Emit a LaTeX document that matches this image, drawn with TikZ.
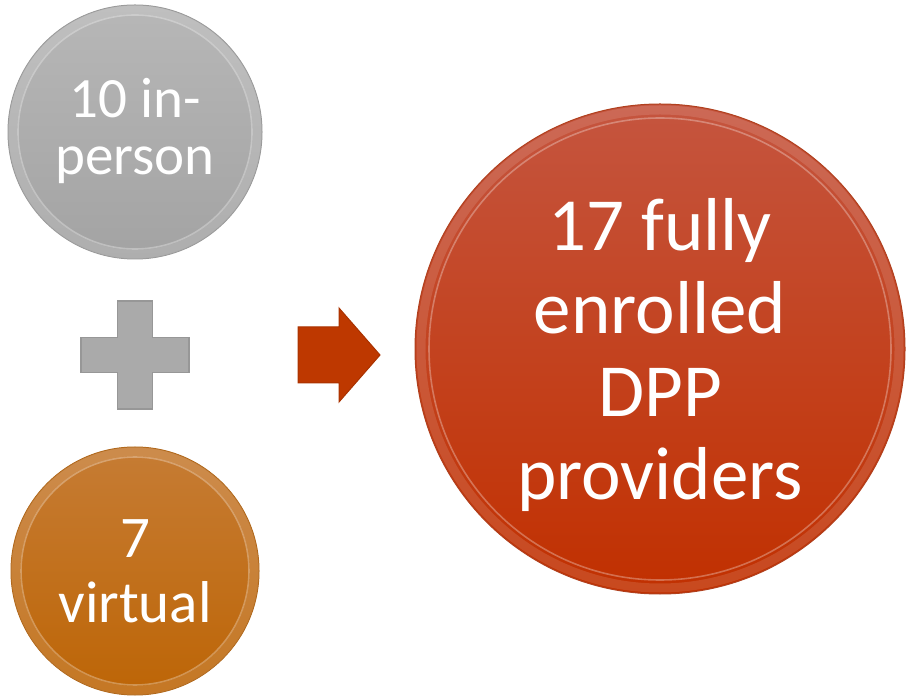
\documentclass[tikz,border=0pt]{standalone}
\usepackage{fontspec}
\setmainfont{Carlito}
\usepackage{tikz}
\usetikzlibrary{positioning}

\definecolor{greytop}{HTML}{B7B7B7}
\definecolor{greybot}{HTML}{A3A3A3}
\definecolor{greyrim}{HTML}{959595}
\definecolor{ambertop}{HTML}{C67C34}
\definecolor{amberbot}{HTML}{BD6506}
\definecolor{amberrim}{HTML}{AD600F}
\definecolor{rusttop}{HTML}{C5553F}
\definecolor{rustbot}{HTML}{C13000}
\definecolor{rustrim}{HTML}{B0401E}
\definecolor{plusgrey}{HTML}{AAAAAA}
\definecolor{plusedge}{HTML}{979797}
\definecolor{arrowred}{HTML}{BE3800}
\definecolor{arrowedge}{HTML}{A93200}

\begin{document}
\begin{tikzpicture}[x=1pt,y=1pt,outer sep=0pt,
  disc/.style={circle, line width=1pt, inner sep=0pt},
  disctext/.style={text=white, align=center, inner sep=0pt},
  band/.style={draw=white, draw opacity=0.12, line width=9pt},
  bevel/.style={draw=white, draw opacity=0.3, line width=1.6pt},
  plusbox/.style={fill=plusgrey, draw=plusedge, line width=1.2pt},
  arrowbox/.style={fill=arrowred, draw=arrowedge, line width=1pt, line join=miter}]
\useasboundingbox (0,0) rectangle (907,699);

% Left column
\node [disc, minimum size=254pt, top color=greytop, bottom color=greybot, draw=greyrim] (inperson) at (135,567) {};
\node [disc, minimum size=248pt, top color=ambertop, bottom color=amberbot, draw=amberrim] (virtual) at (135,128) {};

% Right circle
\node [disc, minimum size=490pt, top color=rusttop, bottom color=rustbot, draw=rustrim] (enrolled) at (660,350) {};

% Bevel rings
\draw [band] (inperson.center) circle (122.5pt);
\draw [bevel] (inperson.center) circle (117pt);
\draw [band] (virtual.center) circle (119.5pt);
\draw [bevel] (virtual.center) circle (114pt);
\draw [band] (enrolled.center) circle (239pt);
\draw [bevel] (enrolled.center) circle (231pt);

% Texts
\node [disctext, font=\fontsize{57}{57}\selectfont] (inpersontext) at ([yshift=1pt]inperson.center) {10 in-\\person};
\node [disctext, font=\fontsize{59}{65}\selectfont] (virtualtext) at ([yshift=0pt]virtual.center) {7\\virtual};
\node [disctext, font=\fontsize{75}{83}\selectfont] (enrolledtext) at ([yshift=-6pt]enrolled.center) {17 fully\\enrolled\\DPP\\providers};

% Plus sign
\coordinate (plus) at (135,344);
\draw [plusbox, shift={(plus)}] (-17.5,-54) -- (17.5,-54) -- (17.5,-17.5) -- (54,-17.5)
  -- (54,17.5) -- (17.5,17.5) -- (17.5,54) -- (-17.5,54) -- (-17.5,17.5) -- (-54,17.5)
  -- (-54,-17.5) -- (-17.5,-17.5) -- cycle;

% Arrow
\coordinate (tip) at (380,344);
\draw [arrowbox, shift={(tip)}] (0,0) -- (-41,47) -- (-41,28) -- (-82,28) -- (-82,-28)
  -- (-41,-28) -- (-41,-47) -- cycle;

\end{tikzpicture}
\end{document}
